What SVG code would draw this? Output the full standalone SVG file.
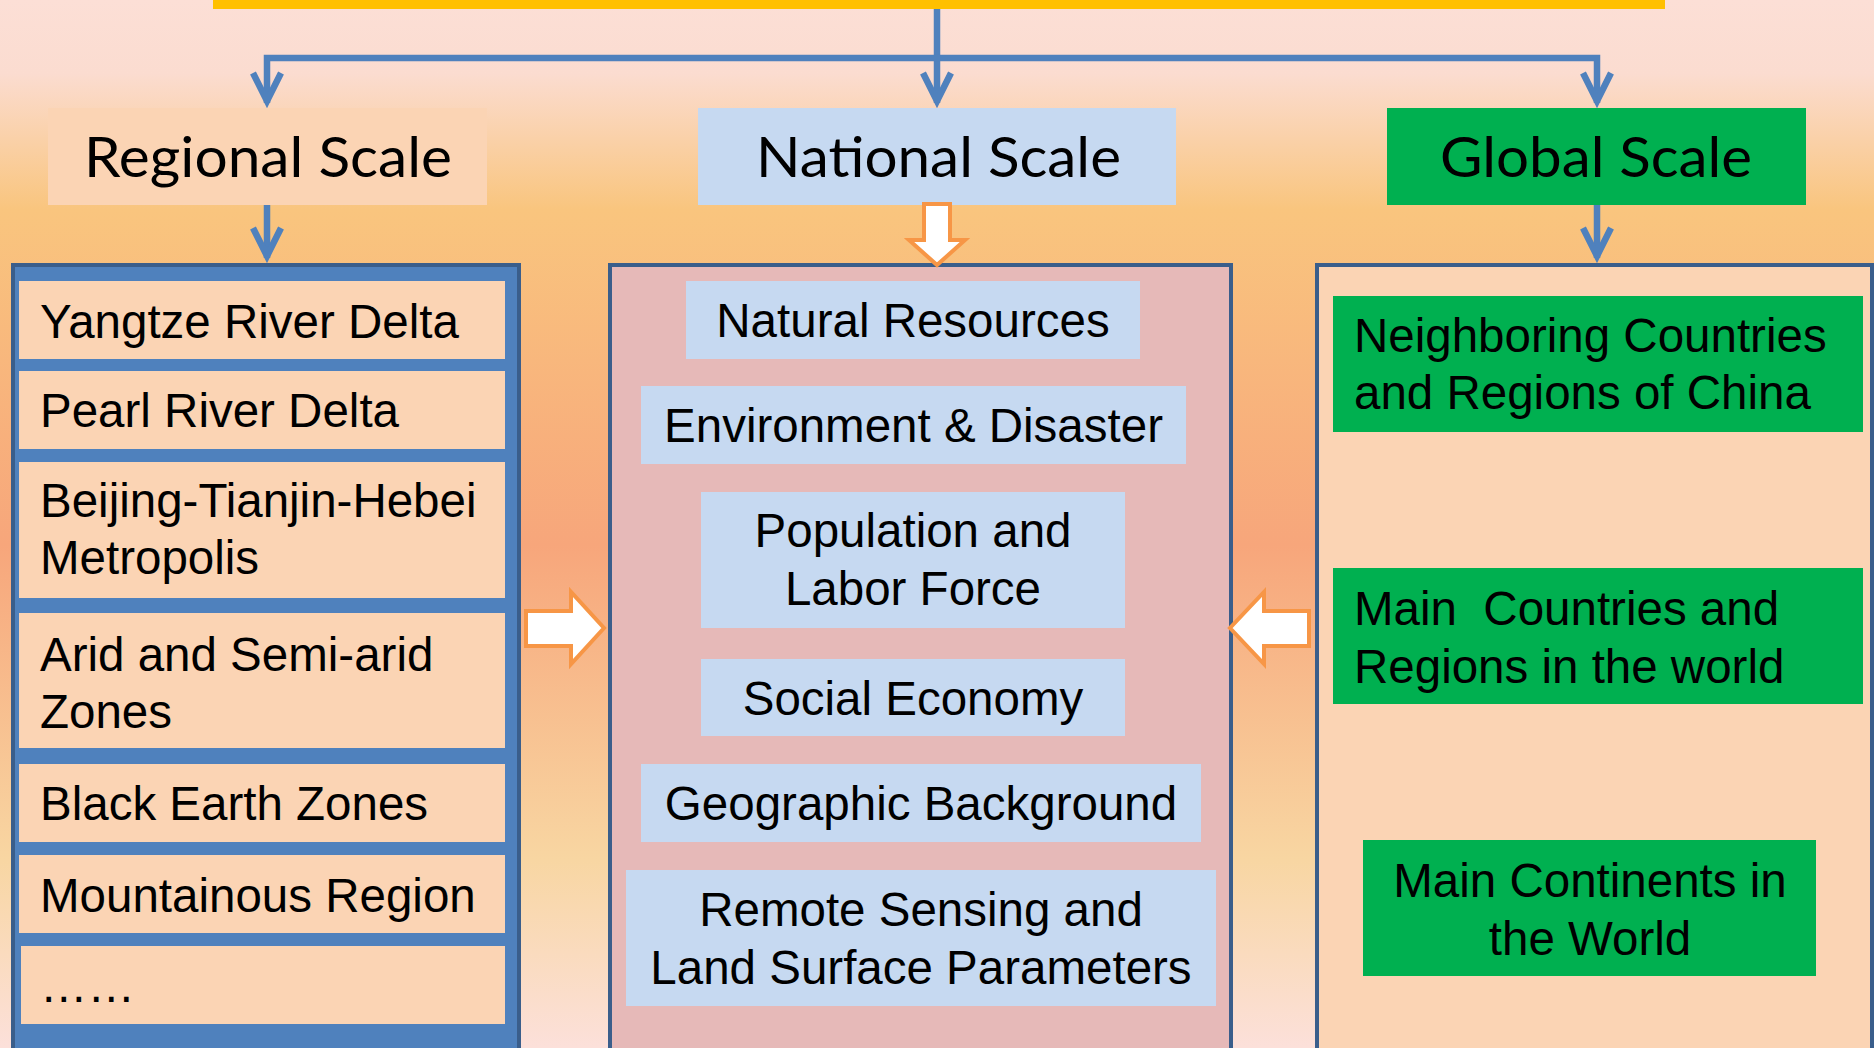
<svg xmlns="http://www.w3.org/2000/svg" width="1874" height="1048" viewBox="0 0 1874 1048">
<defs>
  <linearGradient id="bg" x1="0" y1="0" x2="0" y2="1">
    <stop offset="0" stop-color="#FCDFD6"/>
    <stop offset="0.07" stop-color="#FBDCD0"/>
    <stop offset="0.2" stop-color="#F9C57E"/>
    <stop offset="0.52" stop-color="#F7A67B"/>
    <stop offset="0.82" stop-color="#F8D6A2"/>
    <stop offset="1" stop-color="#FCE0DA"/>
  </linearGradient>
  <marker id="open" markerUnits="userSpaceOnUse" viewBox="-40 -22 46 44" refX="0" refY="0" markerWidth="46" markerHeight="44" orient="auto" overflow="visible">
    <path d="M-30,-14 L-2,0 L-30,14" fill="none" stroke="#4F81BD" stroke-width="6.5" stroke-linejoin="miter" stroke-miterlimit="10"/>
  </marker>
  <style>
    .hdr { font-family: Lato, "Open Sans", "Liberation Sans", sans-serif; font-size: 56px; fill: #000; }
    .t { font-family: "Liberation Sans", Arial, sans-serif; font-size: 47.5px; fill: #000; }
    .c { text-anchor: middle; }
    .cont { stroke: #3A5E8B; stroke-width: 4; }
    .peach { fill: #FBD4B4; }
    .blue { fill: #C6D9F1; }
    .green { fill: #00B050; }
    .link { fill: none; stroke: #4F81BD; stroke-width: 6.5; stroke-linejoin: miter; }
    .block { fill: #FFFFFF; stroke: #F79646; stroke-width: 4; stroke-linejoin: miter; }
  </style>
</defs>

<rect x="0" y="0" width="1874" height="1048" fill="url(#bg)"/>

<g id="top-bar">
  <rect x="213" y="0" width="1452" height="9" fill="#FFC000"/>
</g>

<g id="regional-scale">
  <rect class="peach" x="48" y="108" width="439" height="97"/>
  <text class="hdr" x="84" y="177" textLength="368" lengthAdjust="spacingAndGlyphs">Regional Scale</text>
</g>
<g id="national-scale">
  <rect class="blue" x="698" y="108" width="478" height="97"/>
  <text class="hdr" x="756" y="177" textLength="365" lengthAdjust="spacingAndGlyphs">National Scale</text>
</g>
<g id="global-scale">
  <rect class="green" x="1387" y="108" width="419" height="97"/>
  <text class="hdr" x="1440" y="177" textLength="312" lengthAdjust="spacingAndGlyphs">Global Scale</text>
</g>

<g id="regional-list">
  <rect class="cont" x="13" y="265" width="506" height="800" fill="#4F81BD"/>
  <g id="yangtze">
    <rect class="peach" x="19" y="281" width="486" height="78"/>
    <text class="t" x="40" y="338">Yangtze River Delta</text>
  </g>
  <g id="pearl">
    <rect class="peach" x="19" y="371" width="486" height="78"/>
    <text class="t" x="40" y="427">Pearl River Delta</text>
  </g>
  <g id="jingjinji">
    <rect class="peach" x="19" y="462" width="486" height="136"/>
    <text class="t" x="40" y="517">Beijing-Tianjin-Hebei</text>
    <text class="t" x="40" y="574">Metropolis</text>
  </g>
  <g id="arid">
    <rect class="peach" x="19" y="613" width="486" height="135"/>
    <text class="t" x="40" y="671">Arid and Semi-arid</text>
    <text class="t" x="40" y="728">Zones</text>
  </g>
  <g id="black-earth">
    <rect class="peach" x="19" y="764" width="486" height="78"/>
    <text class="t" x="40" y="820">Black Earth Zones</text>
  </g>
  <g id="mountain">
    <rect class="peach" x="19" y="855" width="486" height="78"/>
    <text class="t" x="40" y="912">Mountainous Region</text>
  </g>
  <g id="more-regions">
    <rect class="peach" x="21" y="946" width="484" height="78"/>
    <text class="t" x="40" y="1002">……</text>
  </g>
</g>

<g id="national-list">
  <rect class="cont" x="610" y="265" width="621" height="800" fill="#E6B9B8"/>
  <g id="natural-resources">
    <rect class="blue" x="686" y="281" width="454" height="78"/>
    <text class="t c" x="913" y="337">Natural Resources</text>
  </g>
  <g id="environment">
    <rect class="blue" x="641" y="386" width="545" height="78"/>
    <text class="t c" x="913.5" y="442">Environment &amp; Disaster</text>
  </g>
  <g id="population">
    <rect class="blue" x="701" y="492" width="424" height="136"/>
    <text class="t c" x="913" y="547">Population and</text>
    <text class="t c" x="913" y="605">Labor Force</text>
  </g>
  <g id="social-economy">
    <rect class="blue" x="701" y="659" width="424" height="77"/>
    <text class="t c" x="913" y="715">Social Economy</text>
  </g>
  <g id="geographic">
    <rect class="blue" x="641" y="764" width="560" height="78"/>
    <text class="t c" x="921" y="820">Geographic Background</text>
  </g>
  <g id="remote-sensing">
    <rect class="blue" x="626" y="870" width="590" height="136"/>
    <text class="t c" x="921" y="926">Remote Sensing and</text>
    <text class="t c" x="921" y="984">Land Surface Parameters</text>
  </g>
</g>

<g id="global-list">
  <rect class="cont" x="1317" y="265" width="555" height="800" fill="#FBD4B4"/>
  <g id="neighboring">
    <rect class="green" x="1333" y="296" width="530" height="136"/>
    <text class="t" x="1354" y="352">Neighboring Countries</text>
    <text class="t" x="1354" y="409">and Regions of China</text>
  </g>
  <g id="main-countries">
    <rect class="green" x="1333" y="568" width="530" height="136"/>
    <text class="t" x="1354" y="625" xml:space="preserve">Main  Countries and</text>
    <text class="t" x="1354" y="683">Regions in the world</text>
  </g>
  <g id="continents">
    <rect class="green" x="1363" y="840" width="453" height="136"/>
    <text class="t c" x="1590" y="897">Main Continents in</text>
    <text class="t c" x="1590" y="955">the World</text>
  </g>
</g>

<g id="connectors">
  <path class="link" d="M937,9 V103" marker-end="url(#open)"/>
  <path class="link" d="M937,58 H267 V103" marker-end="url(#open)"/>
  <path class="link" d="M937,58 H1597 V103" marker-end="url(#open)"/>
  <path class="link" d="M267,205 V258" marker-end="url(#open)"/>
  <path class="link" d="M1597,205 V258" marker-end="url(#open)"/>
  <path class="block" d="M924,204 H950 V240 H965 L937,265 L909,240 H924 Z"/>
  <path class="block" d="M526,611 H571 V592 L604,628 L571,664 V646 H526 Z"/>
  <path class="block" d="M1309,611 H1264 V592 L1230,628 L1264,664 V646 H1309 Z"/>
</g>
</svg>
